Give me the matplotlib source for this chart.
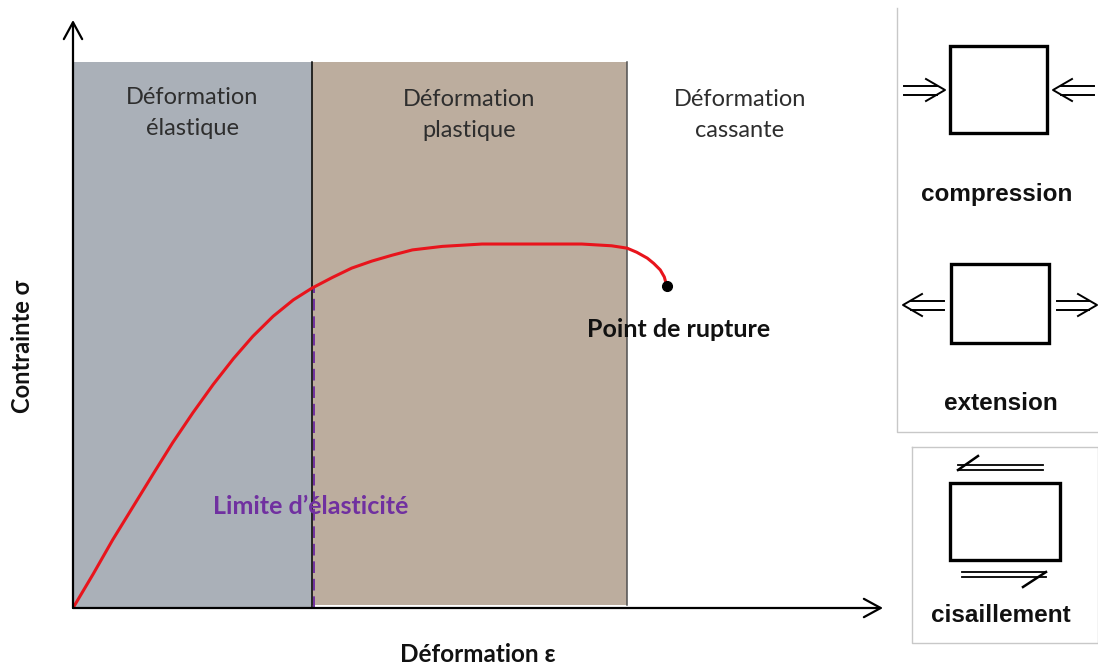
import matplotlib.pyplot as plt
from matplotlib.patches import Rectangle

# stress-strain curve (arbitrary units, axes run 0..10)
strain = [0, 0.25, 0.49, 0.74, 0.99, 1.23, 1.48, 1.73, 1.98, 2.22, 2.47, 2.72,
          2.95, 3.20, 3.44, 3.69, 3.94, 4.19, 4.56, 5.05, 5.67, 6.28, 6.65, 6.84,
          6.96, 7.09, 7.17, 7.25, 7.30, 7.33]
stress = [0, 0.58, 1.16, 1.72, 2.28, 2.81, 3.32, 3.80, 4.24, 4.62, 4.96, 5.24,
          5.44, 5.62, 5.78, 5.90, 6.00, 6.09, 6.15, 6.19, 6.19, 6.19, 6.16, 6.12,
          6.05, 5.95, 5.86, 5.75, 5.63, 5.48]

# domain limits (strain) and top of the coloured bands
elastic_limit = 2.95
rupture_start = 6.84
band_top = 9.29

region_labels = ["Déformation\nélastique", "Déformation\nplastique", "Déformation\ncassante"]
region_label_x = [1.475, 4.895, 8.23]
region_label_y = [8.42, 8.39, 8.39]

color_elastic = "#aab0b8"
color_plastic = "#bcad9e"
color_curve = "#e8141c"
color_limit = "#7030a0"
text_gray = "#2e2e2e"

W, H = 1098, 668
fig = plt.figure(figsize=(W / 100, H / 100), dpi=100)

# main axes: origin at pixel (73, 608), arrows end at (883, 20)
ax = fig.add_axes([73 / W, (H - 608) / H, 810 / W, 588 / H])
ax.set_xlim(0, 10)
ax.set_ylim(0, 10)
ax.axis("off")

ax.add_patch(Rectangle((0, 0), elastic_limit, band_top, facecolor=color_elastic, edgecolor="none", zorder=1))
ax.add_patch(Rectangle((elastic_limit, 0.05), rupture_start - elastic_limit, band_top - 0.05,
                       facecolor=color_plastic, edgecolor="none", zorder=1))
ax.plot([elastic_limit, elastic_limit], [0, band_top], color="black", lw=1.1, zorder=2)
ax.plot([rupture_start, rupture_start], [0.05, band_top], color="#505050", lw=1.1, zorder=2)

# elastic limit marker
y_limit = stress[strain.index(elastic_limit)]
ax.plot([elastic_limit + 0.02, elastic_limit + 0.02], [0, y_limit], color=color_limit,
        lw=1.4, ls=(0, (6, 3)), zorder=3)

ax.plot(strain, stress, color=color_curve, lw=2.2, solid_capstyle="round",
        solid_joinstyle="round", zorder=4)
ax.plot(strain[-1], stress[-1], "o", color="black", ms=7, zorder=5)

# axes arrows
arrow = dict(arrowstyle="->,head_length=0.55,head_width=0.3", lw=1.6, color="black",
             mutation_scale=22, shrinkA=0, shrinkB=0)
ax.annotate("", xy=(0, 10), xytext=(0, 0), arrowprops=arrow, annotation_clip=False, zorder=6)
ax.annotate("", xy=(10, 0), xytext=(0, 0), arrowprops=arrow, annotation_clip=False, zorder=6)

for lab, x, y in zip(region_labels, region_label_x, region_label_y):
    ax.text(x, y, lab, ha="center", va="center", fontsize=17, family="Lato",
            color=text_gray, linespacing=1.6, zorder=6)

ax.text(7.47, 4.73, "Point de rupture", ha="center", va="center", fontsize=18,
        family="Lato", weight="bold", color="#111111", zorder=6)
ax.text(2.93, 1.72, "Limite d’élasticité", ha="center", va="center", fontsize=18,
        family="Lato", weight="bold", color=color_limit, zorder=6)

fig.text(23 / W, 1 - 346 / H, "Contrainte σ", rotation=90, ha="center", va="center",
         fontsize=17, family=["Lato", "DejaVu Sans"], weight="bold", color="#111111")
fig.text(478 / W, 1 - 655 / H, "Déformation ε", ha="center", va="center",
         fontsize=17.5, family=["Lato", "DejaVu Sans"], weight="bold", color="#111111")

# right-hand stress type sketches, in pixel coordinates
ov = fig.add_axes([0, 0, 1, 1])
ov.set_xlim(0, W)
ov.set_ylim(H, 0)
ov.axis("off")

frame = "#c8c8c8"
ov.plot([897, 897, W], [8, 432, 432], color=frame, lw=1.0)
ov.plot([912, 912, W, W, 912], [447, 643, 643, 447, 447], color=frame, lw=1.0)


def double_arrow(x0, x1, y, right=True):
    gap = 4.5
    if right:
        ov.plot([x0, x1 - 8], [y - gap, y - gap], color="black", lw=1.4)
        ov.plot([x0, x1 - 8], [y + gap, y + gap], color="black", lw=1.4)
        ov.plot([x1 - 19, x1, x1 - 19], [y - 11, y, y + 11], color="black", lw=1.4)
    else:
        ov.plot([x0 + 8, x1], [y - gap, y - gap], color="black", lw=1.4)
        ov.plot([x0 + 8, x1], [y + gap, y + gap], color="black", lw=1.4)
        ov.plot([x0 + 19, x0, x0 + 19], [y - 11, y, y + 11], color="black", lw=1.4)


def square(x0, y0, x1, y1):
    ov.add_patch(Rectangle((x0, y0), x1 - x0, y1 - y0, facecolor="white",
                           edgecolor="black", lw=2.4))


label_font = dict(ha="center", va="center", fontsize=17.5, family="Liberation Sans",
                  weight="bold", color="#111111")

square(950, 46, 1047, 133)
double_arrow(904, 945, 90, right=True)
double_arrow(1053, 1094, 90, right=False)
ov.text(997, 195, "compression", **label_font)

square(951, 264, 1049, 343)
double_arrow(903, 944, 305, right=False)
double_arrow(1057, 1097, 305, right=True)
ov.text(1001, 403, "extension", **label_font)

square(950, 483, 1060, 560)
ov.plot([958, 1043], [465, 465], color="black", lw=1.3)
ov.plot([958, 1043], [470, 470], color="black", lw=1.3)
ov.plot([958, 978], [470, 456], color="black", lw=1.8)
ov.plot([962, 1046], [572, 572], color="black", lw=1.3)
ov.plot([962, 1046], [577, 577], color="black", lw=1.3)
ov.plot([1046, 1023], [572, 587], color="black", lw=1.8)
ov.text(1001, 615, "cisaillement", **label_font)

fig.savefig("out.png", dpi=100)
